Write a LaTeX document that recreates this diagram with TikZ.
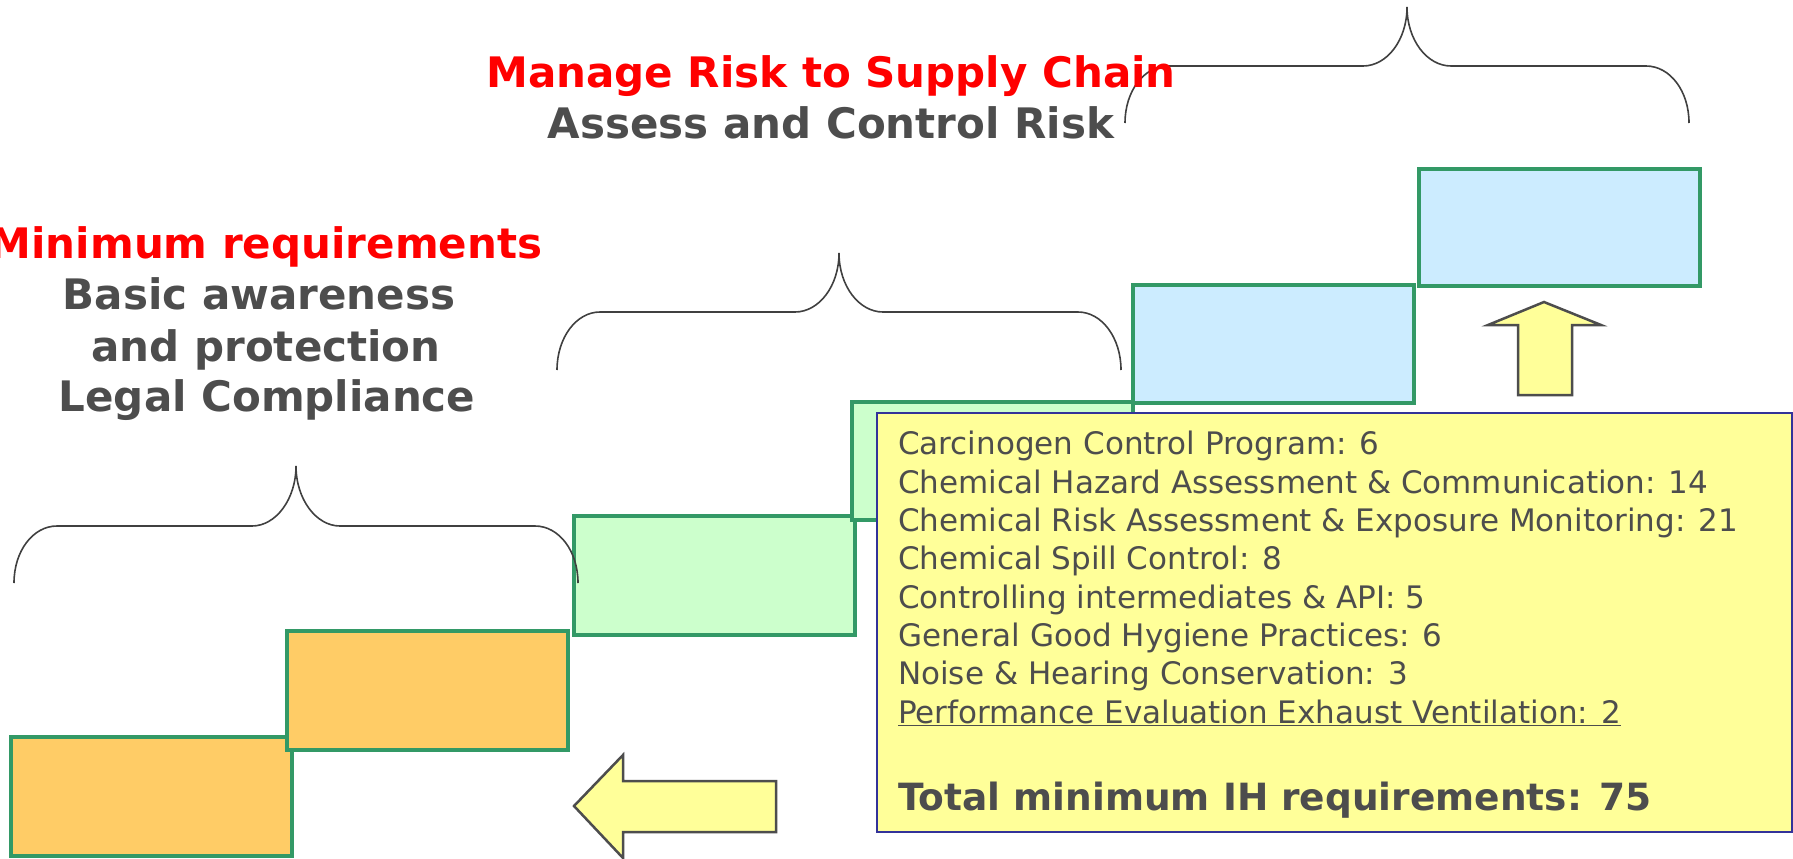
\documentclass[tikz,border=0pt]{standalone}
\usepackage{fontspec}
\setmainfont{DejaVu Sans}

\definecolor{stepgreen}{HTML}{339966}
\definecolor{orangefill}{HTML}{FFCC66}
\definecolor{mintfill}{HTML}{CCFFCC}
\definecolor{skyfill}{HTML}{CCECFF}
\definecolor{noteyellow}{HTML}{FFFF99}
\definecolor{notenavy}{HTML}{333399}
\definecolor{inkgray}{HTML}{4D4D4D}
\definecolor{riskred}{HTML}{FF0000}
\definecolor{bracegray}{HTML}{404040}

\tikzset{
  stepbox/.style={draw=stepgreen, line width=4.5pt},
  bigarrow/.style={draw=inkgray, fill=noteyellow, line width=2.5pt, line join=miter},
  bracket/.style={draw=bracegray, line width=1.6pt},
  headline/.style={anchor=base, inner sep=0pt, font=\bfseries\fontsize{42}{51}\selectfont},
}

% geschweifte Klammer: links, rechts, Enden, Balken, Spitze
\newcommand{\curlybrace}[5]{%
  \pgfmathsetmacro{\bmid}{(#1+#2)/2}
  \draw[bracket] (#1,#3) .. controls (#1,{#3-32}) and ({#1+19},#4) .. ({#1+43},#4)
    -- ({\bmid-44},#4) .. controls ({\bmid-20},#4) and (\bmid,{#5+33}) .. (\bmid,#5)
    .. controls (\bmid,{#5+33}) and ({\bmid+20},#4) .. ({\bmid+44},#4)
    -- ({#2-43},#4) .. controls ({#2-19},#4) and (#2,{#3-32}) .. (#2,#3);
}

\begin{document}
\begin{tikzpicture}[x=1pt, y=-1pt]
  \useasboundingbox (0,0) rectangle (1793,859);
  % Stufen
  \draw[stepbox, fill=orangefill] (11,737) rectangle (292,856);
  \draw[stepbox, fill=orangefill] (287,631) rectangle (568,750);
  \draw[stepbox, fill=mintfill] (574,516) rectangle (855,635);
  \draw[stepbox, fill=mintfill] (852,402) rectangle (1133,520);
  \draw[stepbox, fill=skyfill] (1133,285) rectangle (1414,403);
  \draw[stepbox, fill=skyfill] (1419,169) rectangle (1700,286);
  % Klammern
  \curlybrace{14}{578}{583}{526}{466}
  \curlybrace{557}{1121}{370}{312}{253}
  \curlybrace{1125}{1689}{123}{66}{7}
  % Pfeile
  \draw[bigarrow] (1544,302) -- (1601,325) -- (1572,325) -- (1572,395)
    -- (1518,395) -- (1518,325) -- (1488,325) -- cycle;
  \draw[bigarrow] (574,806) -- (623,755) -- (623,781) -- (776,781)
    -- (776,832) -- (623,832) -- (623,858) -- cycle;
  % Ueberschriften
  \node (manage) [headline, text=riskred] at (831,88) {Manage Risk to Supply Chain};
  \node (assess) [headline, text=inkgray] at (831,138) {Assess and Control Risk};
  \node (minimum) [headline, text=riskred] at (266,258) {Minimum requirements};
  \node (basic) [headline, text=inkgray] at (259,309) {Basic awareness};
  \node (protect) [headline, text=inkgray] at (266,361) {and protection};
  \node (legal) [headline, text=inkgray] at (267,411) {Legal Compliance};
  % Liste
  \draw[draw=notenavy, fill=noteyellow, line width=1.5pt] (877,413) rectangle (1792,832);
  \node (list) [anchor=base west, inner sep=0pt, align=left, text=inkgray,
    font=\fontsize{31}{38.3}\selectfont] at (898,723) {%
    Carcinogen Control Program: 6\\
    Chemical Hazard Assessment \& Communication: 14\\
    Chemical Risk Assessment \& Exposure Monitoring: 21\\
    Chemical Spill Control: 8\\
    Controlling intermediates \& API: 5\\
    General Good Hygiene Practices: 6\\
    Noise \& Hearing Conservation: 3\\
    \underline{Performance Evaluation Exhaust Ventilation: 2}};
  \node (total) [anchor=base west, inner sep=0pt, text=inkgray,
    font=\bfseries\fontsize{37.5}{45}\selectfont] at (898,810) {Total minimum IH requirements: 75};
\end{tikzpicture}
\end{document}
